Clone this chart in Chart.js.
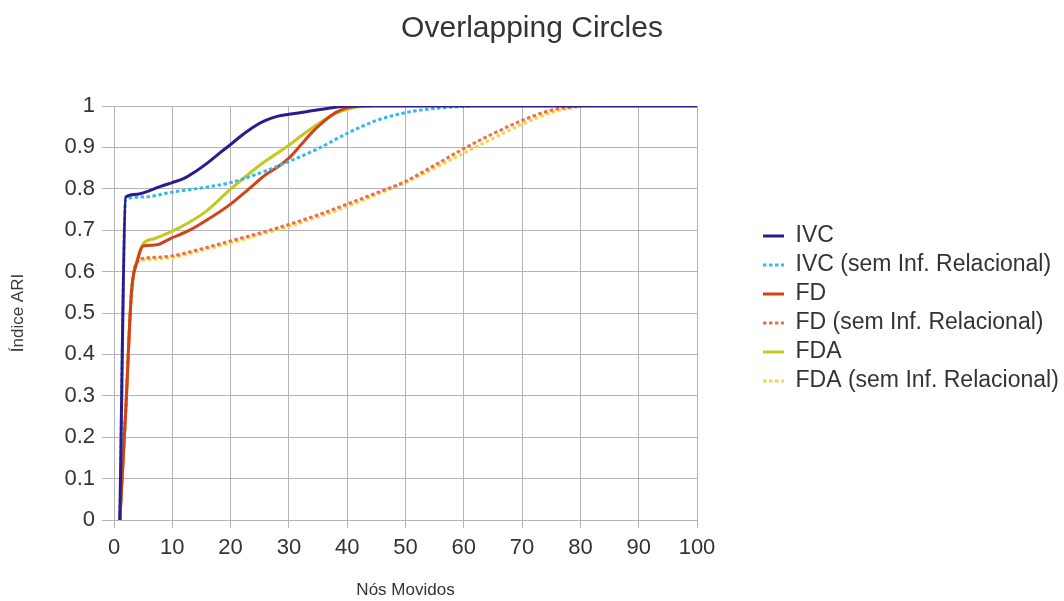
<!DOCTYPE html>
<html>
<head>
<meta charset="utf-8">
<script src="https://cdn.jsdelivr.net/npm/chart.js@4"></script>
<style>
  html, body { margin: 0; padding: 0; background: #ffffff; }
  #wrap { width: 1064px; height: 601px; }
</style>
</head>
<body>
<div id="wrap"><canvas id="chart" width="1064" height="601"></canvas></div>
<script>
// Series labels
const seriesNames = [
  'IVC',
  'IVC (sem Inf. Relacional)',
  'FD',
  'FD (sem Inf. Relacional)',
  'FDA',
  'FDA (sem Inf. Relacional)'
];

// IVC
const ivcX = [1, 2, 4, 6, 8, 10, 12, 14, 16, 18, 20, 22, 24, 26, 28, 30, 33, 36, 38, 40, 100];
const ivcY = [0, 0.78, 0.787, 0.795, 0.806, 0.815, 0.825, 0.842, 0.862, 0.885, 0.907, 0.93, 0.95, 0.965, 0.975, 0.98, 0.986, 0.993, 0.997, 1.0, 1.0];

// IVC without relational information
const ivcSemX = [1, 2, 5, 10, 15, 20, 25, 30, 35, 40, 45, 50, 55, 61];
const ivcSemY = [0, 0.775, 0.78, 0.792, 0.802, 0.815, 0.838, 0.866, 0.897, 0.934, 0.965, 0.984, 0.994, 1.0];

// FD
const fdX = [1, 2, 3, 4, 5, 7, 10, 13, 16, 20, 23, 26, 28, 30, 32, 34, 36, 38, 40, 42];
const fdY = [0, 0.26, 0.55, 0.625, 0.662, 0.664, 0.682, 0.7, 0.725, 0.763, 0.798, 0.834, 0.852, 0.874, 0.905, 0.937, 0.963, 0.984, 0.996, 1.0];

// FD without relational information
const fdSemX = [1, 2, 3, 4, 5, 10, 15, 20, 25, 30, 35, 40, 45, 50, 55, 60, 65, 70, 75, 80];
const fdSemY = [0, 0.26, 0.55, 0.625, 0.632, 0.638, 0.655, 0.674, 0.693, 0.714, 0.737, 0.763, 0.79, 0.818, 0.857, 0.897, 0.933, 0.965, 0.99, 1.0];

// FDA
const fdaX = [1, 2, 3, 4, 5, 7, 10, 13, 16, 20, 25, 30, 32, 34, 36, 38, 40, 42, 44];
const fdaY = [0, 0.26, 0.55, 0.63, 0.667, 0.68, 0.698, 0.72, 0.748, 0.799, 0.857, 0.905, 0.927, 0.947, 0.966, 0.982, 0.992, 0.998, 1.0];

// FDA without relational information
const fdaSemX = [1, 2, 3, 4, 5, 10, 15, 20, 25, 30, 35, 40, 45, 50, 55, 60, 65, 70, 75, 80];
const fdaSemY = [0, 0.26, 0.55, 0.622, 0.628, 0.634, 0.651, 0.669, 0.689, 0.709, 0.732, 0.757, 0.786, 0.815, 0.85, 0.886, 0.922, 0.956, 0.984, 1.0];

// Axis tick labels
const xTickLabels = ['0', '10', '20', '30', '40', '50', '60', '70', '80', '90', '100'];
const yTickLabels = ['0', '0.1', '0.2', '0.3', '0.4', '0.5', '0.6', '0.7', '0.8', '0.9', '1'];

const seriesX = [ivcX, ivcSemX, fdX, fdSemX, fdaX, fdaSemX];
const seriesY = [ivcY, ivcSemY, fdY, fdSemY, fdaY, fdaSemY];
const seriesColors = ['#2b1b8f', '#36b9ea', '#d2421a', '#e3734e', '#c5c81e', '#ffd040'];
const seriesDashed = [false, true, false, true, false, true];
const dotPattern = [3.5, 2.5];

const toPoints = (xs, ys) => xs.map((x, i) => ({ x: x, y: ys[i] }));

const datasets = seriesNames.map((name, i) => ({
  label: name,
  data: toPoints(seriesX[i], seriesY[i]),
  borderColor: seriesColors[i],
  backgroundColor: seriesColors[i],
  borderWidth: 3,
  borderDash: seriesDashed[i] ? dotPattern : [],
  borderCapStyle: 'butt',
  pointRadius: 0,
  pointHoverRadius: 0,
  cubicInterpolationMode: 'monotone',
  fill: false
}));

// Moves the legend column away from the plot area and gives it the full right margin
const legendPlacement = {
  id: 'legendPlacement',
  afterLayout(chart) {
    const lg = chart.legend;
    if (!lg) return;
    const dy = 8;
    lg.left = 757;
    lg.right = chart.width;
    lg.width = lg.right - lg.left;
    lg.top += dy;
    lg.bottom += dy;
  }
};

Chart.defaults.font.family = "'Liberation Sans', Arial, sans-serif";
Chart.defaults.color = '#333333';

const gridColor = '#b4b4b4';

new Chart(document.getElementById('chart'), {
  type: 'line',
  data: { datasets: datasets },
  plugins: [legendPlacement],
  options: {
    responsive: false,
    animation: false,
    devicePixelRatio: 1,
    layout: { padding: 0 },
    plugins: {
      title: {
        display: true,
        text: 'Overlapping Circles',
        color: '#333333',
        font: { size: 30, weight: 'normal' },
        padding: { top: 11, bottom: 59 }
      },
      legend: {
        position: 'right',
        align: 'center',
        labels: {
          usePointStyle: true,
          pointStyle: 'line',
          pointStyleWidth: 21,
          padding: 6,
          color: '#333333',
          font: { size: 23 },
          // keep each series' line width and dot pattern in its legend sample
          generateLabels(chart) {
            const items = Chart.defaults.plugins.legend.labels.generateLabels(chart);
            items.forEach((item) => {
              const ds = chart.data.datasets[item.datasetIndex];
              item.lineDash = ds.borderDash;
              item.lineWidth = ds.borderWidth;
              item.strokeStyle = ds.borderColor;
            });
            return items;
          }
        }
      },
      tooltip: { enabled: false }
    },
    scales: {
      x: {
        type: 'linear',
        min: 0,
        max: 100,
        afterFit(axis) {
          axis.height = 81;
          axis.paddingRight = 367;
        },
        ticks: {
          stepSize: 10,
          padding: 7,
          color: '#333333',
          font: { size: 22 },
          maxRotation: 0,
          callback: (v) => xTickLabels[Math.round(v / 10)]
        },
        grid: { color: gridColor, lineWidth: 1, tickLength: 8, tickColor: gridColor },
        border: { color: gridColor, width: 1 },
        title: {
          display: true,
          text: 'Nós Movidos',
          color: '#333333',
          font: { size: 17 },
          padding: { top: 4, bottom: 0 }
        }
      },
      y: {
        min: 0,
        max: 1,
        afterFit(axis) {
          axis.width = 114;
        },
        ticks: {
          stepSize: 0.1,
          padding: 7,
          color: '#333333',
          font: { size: 22 },
          callback: (v) => yTickLabels[Math.round(v * 10)]
        },
        grid: { color: gridColor, lineWidth: 1, tickLength: 12, tickColor: gridColor },
        border: { color: gridColor, width: 1 },
        title: {
          display: true,
          text: 'Índice ARI',
          color: '#3a3a3a',
          font: { size: 17 },
          padding: { top: 8, bottom: 4 }
        }
      }
    }
  }
});
</script>
</body>
</html>
